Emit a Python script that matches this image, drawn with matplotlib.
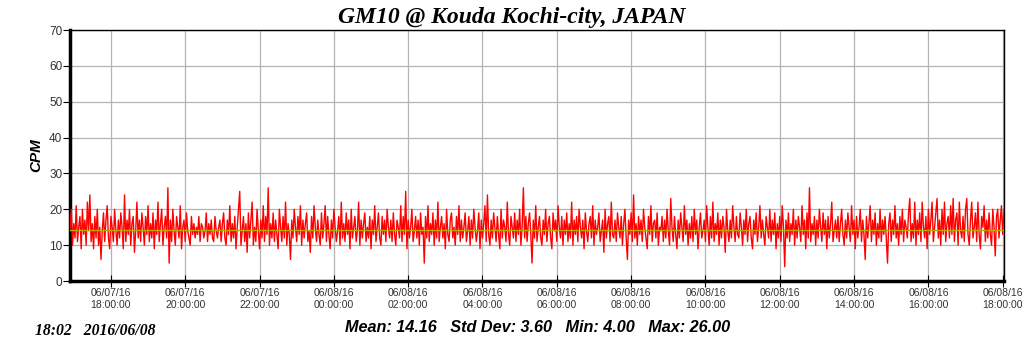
import numpy as np
import pandas as pd
import matplotlib
matplotlib.use('Agg')
import matplotlib.pyplot as plt
import matplotlib.dates as mdates

# 2-minute counts (CPM), starting 06/07/16 16:54
cpm = [
    14, 20, 10, 16, 12, 21, 11, 15, 18, 9, 20, 13, 17, 10, 22, 14, 24, 11, 16, 9,
    18, 12, 20, 10, 15, 6, 14, 19, 11, 17, 21, 12, 9, 18, 15, 11, 20, 14, 10, 17,
    12, 19, 15, 9, 24, 11, 17, 13, 20, 10, 16, 18, 8, 14, 22, 12, 17, 11, 19, 15,
    10, 18, 13, 21, 11, 16, 12, 19, 9, 17, 13, 22, 11, 16, 20, 10, 15, 18, 12, 26,
    5, 17, 11, 20, 14, 10, 18, 15, 12, 21, 9, 15, 17, 11, 19, 14, 12, 10, 18, 13,
    16, 12, 15, 13, 18, 11, 16, 15, 12, 14, 19, 11, 16, 13, 17, 12, 11, 18, 14, 12,
    15, 17, 11, 16, 19, 12, 10, 17, 13, 21, 11, 16, 12, 18, 9, 15, 20, 25, 10, 14,
    18, 11, 16, 8, 19, 12, 17, 22, 10, 15, 11, 20, 14, 9, 17, 12, 21, 11, 18, 13,
    26, 10, 16, 12, 19, 11, 17, 13, 9, 20, 15, 11, 18, 12, 22, 10, 16, 13, 6, 17,
    12, 20, 15, 11, 18, 13, 21, 10, 17, 12, 16, 19, 11, 14, 8, 18, 12, 21, 15, 11,
    17, 13, 10, 19, 12, 16, 21, 11, 18, 13, 9, 17, 12, 20, 15, 11, 14, 18, 10, 22,
    12, 16, 11, 19, 13, 17, 9, 20, 12, 15, 18, 11, 14, 22, 10, 17, 12, 16, 19, 11,
    15, 12, 18, 9, 17, 13, 21, 11, 15, 19, 12, 10, 18, 13, 17, 11, 20, 15, 12, 17,
    11, 19, 13, 10, 17, 15, 12, 21, 11, 18, 13, 25, 9, 17, 12, 15, 20, 11, 14, 18,
    12, 17, 10, 19, 13, 15, 5, 18, 12, 21, 11, 16, 13, 19, 10, 17, 12, 22, 11, 15,
    18, 12, 16, 9, 20, 13, 11, 17, 19, 12, 15, 10, 18, 13, 21, 11, 17, 12, 15, 19,
    11, 14, 18, 10, 17, 12, 20, 15, 11, 14, 19, 9, 17, 12, 16, 21, 11, 24, 13, 10,
    17, 12, 19, 15, 11, 18, 13, 9, 20, 12, 17, 15, 11, 22, 13, 10, 18, 15, 12, 19,
    11, 17, 13, 20, 10, 15, 26, 12, 18, 11, 16, 19, 13, 5, 17, 12, 21, 11, 15, 18,
    12, 10, 17, 13, 20, 11, 16, 18, 12, 9, 19, 14, 17, 11, 21, 15, 12, 18, 10, 17,
    13, 19, 11, 16, 12, 22, 10, 17, 13, 18, 11, 20, 15, 12, 17, 9, 19, 14, 11, 16,
    18, 12, 21, 10, 17, 13, 15, 19, 11, 14, 17, 8, 20, 12, 16, 18, 11, 22, 13, 12,
    17, 11, 19, 15, 12, 18, 10, 16, 20, 12, 6, 17, 13, 19, 11, 24, 12, 16, 10, 18,
    13, 17, 11, 20, 15, 12, 9, 18, 13, 21, 11, 16, 17, 12, 19, 10, 15, 14, 18, 11,
    17, 12, 20, 14, 10, 23, 15, 11, 18, 13, 9, 17, 12, 19, 15, 11, 21, 13, 17, 10,
    16, 12, 18, 11, 20, 13, 17, 9, 15, 19, 12, 14, 17, 11, 21, 15, 10, 18, 12, 22,
    11, 16, 13, 19, 10, 17, 12, 18, 15, 8, 20, 14, 11, 17, 12, 21, 15, 11, 18, 13,
    12, 19, 15, 10, 17, 13, 20, 11, 16, 18, 12, 9, 17, 13, 19, 11, 15, 21, 12, 17,
    13, 10, 18, 15, 12, 20, 11, 17, 13, 19, 9, 16, 12, 18, 11, 21, 15, 4, 17, 12,
    19, 11, 16, 13, 20, 10, 17, 12, 18, 15, 11, 21, 13, 17, 9, 19, 12, 26, 11, 16,
    13, 18, 10, 17, 12, 20, 15, 11, 19, 13, 17, 9, 18, 12, 16, 22, 11, 14, 17, 12,
    18, 11, 16, 20, 13, 10, 17, 12, 19, 15, 11, 21, 13, 17, 9, 18, 12, 15, 20, 11,
    17, 13, 6, 18, 12, 16, 21, 11, 17, 13, 19, 10, 16, 12, 20, 11, 17, 13, 18, 12,
    5, 16, 19, 11, 17, 13, 21, 12, 16, 10, 18, 13, 20, 11, 17, 15, 12, 19, 23, 11,
    16, 12, 22, 10, 17, 13, 19, 11, 22, 15, 12, 18, 9, 20, 13, 17, 22, 11, 15, 19,
    23, 12, 17, 10, 20, 13, 22, 11, 16, 18, 12, 21, 13, 23, 11, 17, 19, 10, 22, 14,
    12, 18, 11, 20, 23, 13, 10, 17, 22, 12, 15, 19, 11, 22, 13, 9, 18, 15, 21, 11,
    17, 12, 19, 13, 10, 20, 15, 7, 18, 20, 12, 17, 21, 13, 20,
]
mean_cpm = 14.16
start = '2016-06-07 16:54'
t_end = '2016-06-08 18:02'
title = 'GM10 @ Kouda Kochi-city, JAPAN'
stamp = '18:02   2016/06/08'
stats = 'Mean: 14.16   Std Dev: 3.60   Min: 4.00   Max: 26.00'

times = pd.date_range(start, periods=len(cpm), freq='2min')

fig = plt.figure(figsize=(10.24, 3.51), dpi=100)
ax = fig.add_axes([0.0684, 0.1994, 0.912, 0.7151])

ax.plot(times, cpm, color='#ff0000', lw=1.0, zorder=3)
ax.axhline(mean_cpm, color='#b8a800', lw=1.0, zorder=4)

ax.set_xlim(pd.Timestamp(start), pd.Timestamp(t_end))
ax.set_ylim(0, 70)
ax.set_yticks(range(0, 71, 10))
ax.xaxis.set_major_locator(mdates.HourLocator(byhour=range(0, 24, 2)))
ax.xaxis.set_major_formatter(mdates.DateFormatter('%m/%d/%y\n%H:%M:%S'))
ax.grid(True, color='#b4b4b4', lw=0.9)
ax.set_axisbelow(True)

for side in ['top', 'right']:
    ax.spines[side].set_linewidth(1.0)
for side in ['left', 'bottom']:
    ax.spines[side].set_linewidth(2.5)
ax.tick_params(axis='y', direction='out', length=5, width=0.8, pad=0.5,
               labelsize=8.5, labelcolor='#333333')
ax.tick_params(axis='x', direction='inout', length=8, width=0.8, pad=1,
               labelsize=7.5, labelcolor='#333333')
for lab in ax.get_xticklabels() + ax.get_yticklabels():
    lab.set_family('Liberation Sans')
for lab in ax.get_xticklabels():
    lab.set_linespacing(1.3)

ax.set_ylabel('CPM', family='Liberation Sans', fontsize=11, fontweight='bold',
              style='italic', labelpad=4)

fig.text(0.5, 0.949, title, ha='center', va='center', family='Liberation Serif',
         fontsize=17, fontweight='bold', style='italic')
fig.text(0.034, 0.057, stamp, ha='left', va='center', family='Liberation Serif',
         fontsize=11.3, fontweight='bold', style='italic')
fig.text(0.525, 0.068, stats, ha='center', va='center', family='Liberation Sans',
         fontsize=11.7, fontweight='bold', style='italic')

fig.savefig('out.png', dpi=100)
